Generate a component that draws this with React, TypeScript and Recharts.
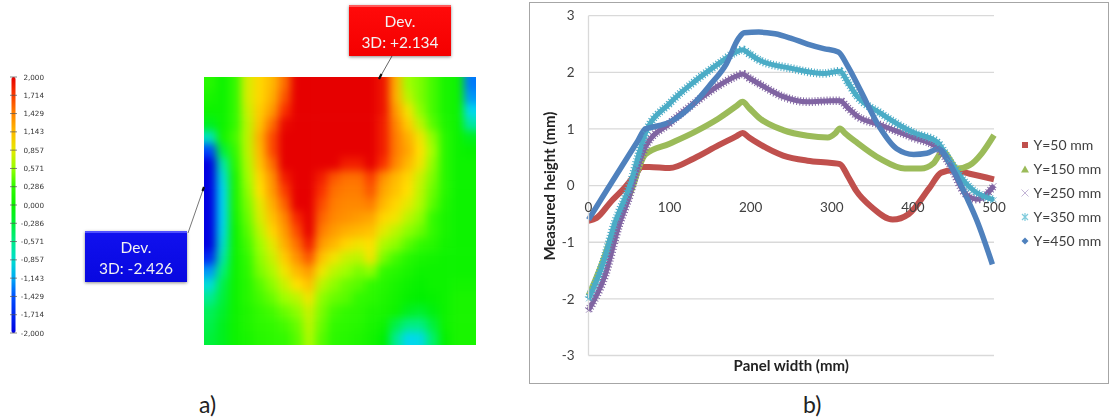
import React from "react";
import {
  LineChart, Line, XAxis, YAxis, CartesianGrid, Legend, ScatterChart, Scatter, ReferenceArea,
} from "recharts";

// ---- panel b data
const x50 = [0, 10, 28, 45, 58, 66, 75, 100, 130, 160, 182, 190, 198, 210, 240, 270, 300, 310, 320, 330, 350, 375, 395, 420, 435, 450, 470, 500];
const y50 = [-0.62, -0.57, -0.28, -0.03, 0.2, 0.33, 0.33, 0.31, 0.48, 0.71, 0.87, 0.93, 0.85, 0.74, 0.53, 0.44, 0.4, 0.38, 0.16, -0.09, -0.39, -0.6, -0.5, -0.05, 0.23, 0.27, 0.21, 0.11];
const x150 = [0, 16, 32, 55, 63, 70, 100, 130, 160, 182, 190, 198, 210, 240, 270, 295, 304, 310, 316, 330, 360, 390, 410, 425, 437, 455, 470, 485, 500];
const y150 = [-1.95, -1.4, -0.75, 0.0, 0.35, 0.55, 0.74, 0.94, 1.18, 1.4, 1.48, 1.37, 1.2, 0.98, 0.88, 0.85, 0.92, 1.01, 0.93, 0.77, 0.47, 0.3, 0.3, 0.39, 0.6, 0.3, 0.36, 0.57, 0.89];
const x250 = [0, 20, 38, 50, 60, 70, 100, 130, 160, 182, 190, 198, 210, 240, 270, 300, 310, 320, 330, 360, 400, 430, 445, 465, 480, 500];
const y250 = [-2.2, -1.6, -0.68, -0.2, 0.3, 0.68, 1.1, 1.45, 1.76, 1.93, 1.97, 1.9, 1.8, 1.57, 1.48, 1.5, 1.5, 1.37, 1.24, 1.07, 0.85, 0.67, 0.39, -0.15, -0.24, 0.0];
const x350 = [0, 16, 32, 53, 62, 70, 100, 130, 160, 182, 190, 198, 210, 250, 290, 310, 320, 330, 360, 400, 430, 445, 470, 500];
const y350 = [-2.0, -1.45, -0.68, 0.09, 0.55, 0.92, 1.45, 1.83, 2.15, 2.36, 2.4, 2.33, 2.22, 2.07, 1.98, 2.02, 1.82, 1.6, 1.28, 0.94, 0.77, 0.44, -0.03, -0.25];
const x450 = [0, 20, 45, 60, 70, 78, 100, 130, 150, 170, 185, 192, 210, 230, 250, 270, 290, 308, 320, 335, 359, 380, 401, 417, 431, 450, 466, 479, 498];
const y450 = [-0.6, -0.14, 0.43, 0.77, 1.0, 1.03, 1.12, 1.45, 1.78, 2.15, 2.6, 2.7, 2.71, 2.68, 2.6, 2.5, 2.42, 2.36, 2.1, 1.69, 1.03, 0.65, 0.55, 0.57, 0.65, 0.27, -0.2, -0.62, -1.39];
const xTicks = [0, 100, 200, 300, 400, 500];
const yTicks = [-3, -2, -1, 0, 1, 2, 3];
const legendOrder = ["Y=50 mm", "Y=150 mm", "Y=250 mm", "Y=350 mm", "Y=450 mm"];

const zip = (xs: number[], ys: number[]) => xs.map((x, i) => ({ x, y: ys[i] }));

// ---- panel a data (deviation map, read row by row)
const heatRows: number[][] = [
  [0.2, 0, 0.3, 0.8, 1.0, 1.15, 1.5, 2, 2, 2, 2, 2, 2, 2, 1.9, 1.2, 0.6, 0.5, 0.35, 0.1, 0, -1.3],
  [0.1, 0, 0.3, 0.8, 1.0, 1.2, 1.6, 2, 2, 2, 2, 2, 2, 2, 1.9, 1.2, 0.7, 0.5, 0.35, 0.1, 0, -1.2],
  [0.0, 0, 0.3, 0.75, 1.05, 1.3, 1.75, 2, 2, 2, 2, 2, 2, 2, 1.9, 1.3, 0.9, 0.55, 0.35, 0.1, 0, -1.0],
  [-0.2, 0, 0.3, 0.7, 1.1, 1.5, 1.95, 2.2, 2.2, 2, 2, 2, 2, 2.1, 1.85, 1.4, 1.05, 0.7, 0.4, 0.15, 0, -0.7],
  [-0.8, 0.05, 0.35, 0.7, 1.2, 1.65, 2.1, 2.2, 2.2, 2.2, 2.2, 2.2, 2.2, 2.2, 1.85, 1.45, 1.2, 0.9, 0.55, 0.2, 0, -0.2],
  [-1.5, -0.3, 0.3, 0.7, 1.15, 1.65, 2.1, 2.3, 2.3, 2.3, 2.3, 2.3, 2.3, 2.3, 1.85, 1.45, 1.25, 0.95, 0.6, 0.2, 0, -0.05],
  [-2, -0.7, 0.2, 0.65, 1.1, 1.5, 2.0, 2.3, 2.3, 2.2, 2.0, 1.85, 1.85, 2.0, 1.75, 1.4, 1.15, 0.9, 0.55, 0.2, 0, 0],
  [-2.2, -0.9, 0.1, 0.6, 1.0, 1.35, 1.85, 2.3, 2.3, 1.85, 1.6, 1.5, 1.5, 1.7, 1.35, 1.15, 1.0, 0.75, 0.5, 0.2, 0, 0],
  [-2.3, -1.0, 0.1, 0.55, 0.95, 1.3, 1.7, 2.25, 2.3, 1.75, 1.5, 1.45, 1.45, 1.6, 1.25, 1.1, 0.95, 0.7, 0.45, 0.2, 0, 0],
  [-2.3, -1.0, 0.1, 0.5, 0.85, 1.2, 1.55, 2.0, 2.3, 1.65, 1.45, 1.4, 1.4, 1.45, 1.15, 1.0, 0.85, 0.65, 0.4, 0.15, 0, 0],
  [-2.2, -1.0, 0.05, 0.45, 0.8, 1.1, 1.4, 1.8, 2.2, 1.55, 1.4, 1.35, 1.3, 1.25, 1.0, 0.9, 0.7, 0.55, 0.3, 0.1, 0, 0],
  [-2.2, -0.95, 0, 0.4, 0.7, 1.0, 1.3, 1.65, 2.1, 1.45, 1.3, 1.2, 1.15, 1.1, 0.85, 0.7, 0.55, 0.45, 0.3, 0.1, 0, 0],
  [-2, -0.85, 0, 0.35, 0.6, 0.85, 1.2, 1.5, 1.85, 1.3, 1.15, 1.0, 0.9, 0.95, 0.65, 0.55, 0.4, 0.3, 0.2, 0.05, 0, 0],
  [-1.7, -0.7, 0, 0.3, 0.55, 0.75, 1.05, 1.35, 1.6, 1.1, 0.9, 0.75, 0.7, 0.9, 0.5, 0.35, 0.2, 0.1, 0.05, 0, 0, 0],
  [-1.2, -0.5, 0, 0.25, 0.5, 0.65, 0.9, 1.15, 1.3, 0.9, 0.7, 0.6, 0.5, 0.55, 0.3, 0.2, 0.1, 0, 0, 0, 0, 0],
  [-0.9, -0.35, 0, 0.2, 0.4, 0.55, 0.75, 0.95, 1.1, 0.7, 0.55, 0.45, 0.4, 0.3, 0.2, 0.1, 0, -0.05, 0, 0, 0.05, 0.05],
  [-0.6, -0.3, 0, 0.2, 0.35, 0.45, 0.6, 0.7, 0.9, 0.55, 0.45, 0.4, 0.3, 0.25, 0.15, 0.05, -0.05, -0.1, -0.05, 0, 0.1, 0.1],
  [-0.4, -0.25, 0, 0.15, 0.3, 0.35, 0.45, 0.55, 0.75, 0.5, 0.35, 0.3, 0.25, 0.15, 0.1, 0, -0.2, -0.25, -0.15, 0, 0.1, 0.1],
  [-0.35, -0.2, 0, 0.15, 0.25, 0.3, 0.35, 0.45, 0.7, 0.45, 0.3, 0.25, 0.2, 0.1, 0, -0.35, -0.55, -0.55, -0.3, 0, 0.1, 0.1],
  [-0.3, -0.2, 0, 0.1, 0.2, 0.25, 0.3, 0.4, 0.65, 0.4, 0.25, 0.2, 0.15, 0.05, -0.1, -0.6, -1.0, -0.95, -0.45, -0.05, 0.1, 0.1],
];
const scaleTicks = [2, 1.714, 1.429, 1.143, 0.857, 0.571, 0.286, 0, -0.286, -0.571, -0.857, -1.143, -1.429, -1.714, -2];

const COLS = heatRows[0].length;
const ROWS = heatRows.length;
const heatCells = heatRows.flatMap((row, r) =>
  row.map((v, c) => ({ col: c + 0.5, row: r + 0.5, c, r, v }))
);
const scalePoints = scaleTicks.map((v) => ({ x: 0.5, y: v }));

const colorStops: [number, number[]][] = [
  [-2, [0, 0, 225]], [-1.43, [0, 80, 255]], [-1.0, [0, 215, 240]], [-0.5, [0, 240, 120]],
  [-0.1, [0, 240, 0]], [0.3, [50, 250, 0]], [0.6, [160, 255, 0]], [0.95, [255, 225, 0]],
  [1.43, [255, 130, 0]], [1.75, [250, 50, 0]], [2, [230, 0, 0]],
];
function heatColor(v: number) {
  const t = Math.max(-2, Math.min(2, v));
  for (let i = 1; i < colorStops.length; i++) {
    const [a, ca] = colorStops[i - 1];
    const [b, cb] = colorStops[i];
    if (t <= b) {
      const f = (t - a) / (b - a);
      const m = ca.map((p, k) => Math.round(p + (cb[k] - p) * f));
      return `rgb(${m[0]},${m[1]},${m[2]})`;
    }
  }
  return "rgb(230,0,0)";
}

const FONT = "Lato, 'Open Sans', sans-serif";
const PLOT_W = 272, PLOT_H = 268, PAD = 30;
const CW = PLOT_W / COLS, CH = PLOT_H / ROWS;

const HeatCell = (p: any) => {
  const d = p.payload;
  const l = p.cx - CW / 2 - (d.c === 0 ? PAD : 0);
  const r = p.cx + CW / 2 + 0.6 + (d.c === COLS - 1 ? PAD : 0);
  const t = p.cy - CH / 2 - (d.r === 0 ? PAD : 0);
  const b = p.cy + CH / 2 + 0.6 + (d.r === ROWS - 1 ? PAD : 0);
  return <rect x={l} y={t} width={r - l} height={b - t} fill={heatColor(d.v)} />;
};

const abs = (left: number, top: number, w: number, h: number): React.CSSProperties => ({
  position: "absolute", left, top, width: w, height: h,
});

function Callout({ left, top, bg, dark, lines }: { left: number; top: number; bg: string; dark: string; lines: string[] }) {
  return (
    <div style={{
      ...abs(left, top, 102, 51), background: bg, boxShadow: "0 1px 3px rgba(0,0,0,.45)",
      borderTop: `2px solid ${dark}`, boxSizing: "border-box", color: "#f2f2f2",
      fontFamily: FONT, fontSize: 15.5, textAlign: "center", lineHeight: "21px", paddingTop: 4, filter: "blur(0.3px)",
    }}>
      {lines.map((t) => <div key={t}>{t}</div>)}
    </div>
  );
}

const XTick = (p: any) => (
  <text x={p.x} y={p.y - 148} dy={-4} textAnchor="middle" fontFamily={FONT} fontSize={13.5} fill="#404040">
    {p.payload.value}
  </text>
);

const ScaleTick = (p: any) => (
  <g>
    <line x1={10} x2={17} y1={p.y} y2={p.y} stroke="#555" strokeWidth={0.7} />
    <text x={44} y={p.y + 2.5} textAnchor="end" fontFamily="'DejaVu Sans', sans-serif" fontSize={7.2} fill="#333">
      {p.payload.value.toFixed(3).replace(".", ",")}
    </text>
  </g>
);

const Cross = (p: any) => {
  if (p.cx == null) return <g key={p.key} />;
  const s = 2.5;
  return (
    <g key={p.key} stroke={p.stroke} strokeWidth={0.7}>
      <line x1={p.cx - s} x2={p.cx + s} y1={p.cy - s} y2={p.cy + s} />
      <line x1={p.cx - s} x2={p.cx + s} y1={p.cy + s} y2={p.cy - s} />
    </g>
  );
};

const legendMarks: Record<string, React.ReactNode> = {
  "Y=50 mm": <rect x={2} y={2} width={6} height={6} fill="#c0504d" />,
  "Y=150 mm": <polygon points="5,1.5 9,8.5 1,8.5" fill="#9bbb59" />,
  "Y=250 mm": <path d="M1.5 1.5 L8.5 8.5 M1.5 8.5 L8.5 1.5" stroke="#c3b5d6" strokeWidth={1} fill="none" />,
  "Y=350 mm": <path d="M2 2 L8 8 M2 8 L8 2 M5 1 L5 9" stroke="#7fcbdc" strokeWidth={1.2} fill="none" />,
  "Y=450 mm": <polygon points="5,1.5 8.5,5 5,8.5 1.5,5" fill="#4f81bd" />,
};

const LegendBox = () => (
  <div>
    {legendOrder.map((name) => (
      <div key={name} style={{ height: 24, display: "flex", alignItems: "center", fontFamily: FONT, fontSize: 14, color: "#404040", whiteSpace: "nowrap" }}>
        <svg width={10} height={10} style={{ marginRight: 4 }}>{legendMarks[name]}</svg>
        {name}
      </div>
    ))}
  </div>
);

export default function App() {
  return (
    <div style={{ position: "absolute", left: 0, top: 0, width: 1112, height: 419, background: "#fff", overflow: "hidden" }}>
      {/* colour scale */}
      <div style={{ ...abs(0, 65, 60, 280), filter: "blur(0.35px)" }}>
        <ScatterChart width={60} height={280} margin={{ top: 12, bottom: 12, left: 11.5, right: 0 }}>
          <defs>
            <linearGradient id="scaleGrad" x1="0" y1="0" x2="0" y2="1">
              {scaleTicks.map((t, i) => (
                <stop key={t} offset={i / (scaleTicks.length - 1)} stopColor={heatColor(t)} />
              ))}
            </linearGradient>
          </defs>
          <XAxis type="number" dataKey="x" domain={[0, 1]} hide />
          <YAxis type="number" dataKey="y" orientation="right" width={44.5} domain={[-2, 2]} ticks={scaleTicks} interval={0}
            axisLine={false} tickLine={false} tick={<ScaleTick />} />
          <ReferenceArea x1={0} x2={1} y1={-2} y2={2} fill="url(#scaleGrad)" fillOpacity={1} stroke="none" radius={2} />
          <Scatter data={scalePoints} shape={() => <g />} isAnimationActive={false} />
        </ScatterChart>
      </div>

      {/* deviation map */}
      <div style={{ ...abs(204, 77, PLOT_W, PLOT_H), overflow: "hidden" }}>
        <div style={{ ...abs(-PAD, -PAD, PLOT_W + PAD * 2, PLOT_H + PAD * 2), filter: "blur(4.5px)" }}>
          <ScatterChart width={PLOT_W + PAD * 2} height={PLOT_H + PAD * 2} margin={{ top: PAD, bottom: PAD, left: PAD, right: PAD }}>
            <XAxis type="number" dataKey="col" domain={[0, COLS]} hide />
            <YAxis type="number" dataKey="row" domain={[0, ROWS]} reversed hide />
            <Scatter data={heatCells} shape={<HeatCell />} isAnimationActive={false} />
          </ScatterChart>
        </div>
      </div>

      {/* leaders */}
      <svg style={{ ...abs(0, 0, 520, 300), pointerEvents: "none" }}>
        <line x1={392} y1={56} x2={379} y2={79} stroke="#666" strokeWidth={1} />
        <line x1={381.5} y1={74} x2={379} y2={79} stroke="#111" strokeWidth={2.2} />
        <line x1={188} y1={233} x2={204} y2={187} stroke="#777" strokeWidth={1} />
        <line x1={202.5} y1={191} x2={204} y2={187} stroke="#111" strokeWidth={2.2} />
      </svg>
      <Callout left={349} top={5} bg="linear-gradient(#ff0a0a,#f40000)" dark="#ff5a5a" lines={["Dev.", "3D: +2.134"]} />
      <Callout left={85} top={231} bg="linear-gradient(#1010ee,#0808e0)" dark="#5050ff" lines={["Dev.", "3D: -2.426"]} />
      <div style={{ position: "absolute", left: 199, top: 390, fontFamily: FONT, fontSize: 23, color: "#222" }}>a)</div>
      <div style={{ position: "absolute", left: 803, top: 390, fontFamily: FONT, fontSize: 23, color: "#222" }}>b)</div>

      {/* height profiles */}
      <div style={{ ...abs(529, 2, 580, 382), border: "1.5px solid #a6a6a6", boxSizing: "border-box" }}>
        <div style={{ ...abs(-1.5, -1.5, 580, 382), filter: "blur(0.35px)" }}>
          <LineChart width={580} height={382} margin={{ top: 13.7, right: 27, bottom: 0, left: 0 }}>
            <CartesianGrid vertical={false} stroke="#d9d9d9" strokeWidth={1.3} />
            <XAxis type="number" dataKey="x" domain={[0, 500]} ticks={xTicks} interval={0} height={28.5}
              axisLine={false} tickLine={false} tick={<XTick />}
              label={{ value: "Panel width (mm)", position: "insideBottom", offset: 13, fontFamily: FONT, fontWeight: 700, fontSize: 15, fill: "#222" }} />
            <YAxis type="number" domain={[-3, 3]} ticks={yTicks} interval={0} width={59.5}
              axisLine={{ stroke: "#d9d9d9", strokeWidth: 1.3 }} tickLine={false} tickMargin={8}
              tick={{ fontFamily: FONT, fontSize: 13.5, fill: "#404040" }}
              label={{ value: "Measured height (mm)", angle: -90, position: "insideLeft", offset: 21, dy: 75, fontFamily: FONT, fontWeight: 700, fontSize: 15, fill: "#222" }} />
            <Line type="monotone" data={zip(x50, y50)} dataKey="y" name="Y=50 mm" stroke="#c0504d" strokeWidth={6} dot={false} isAnimationActive={false} />
            <Line type="monotone" data={zip(x150, y150)} dataKey="y" name="Y=150 mm" stroke="#9bbb59" strokeWidth={6} dot={false} isAnimationActive={false} />
            <Line type="monotone" data={zip(x250, y250)} dataKey="y" name="Y=250 mm halo" stroke="#8064a2" strokeWidth={8.5} strokeDasharray="1 2" dot={false} legendType="none" isAnimationActive={false} />
            <Line type="monotone" data={zip(x250, y250)} dataKey="y" name="Y=250 mm" stroke="#8064a2" strokeWidth={5} dot={<Cross />} isAnimationActive={false} />
            <Line type="monotone" data={zip(x350, y350)} dataKey="y" name="Y=350 mm halo" stroke="#4bacc6" strokeWidth={8.5} strokeDasharray="1 2" dot={false} legendType="none" isAnimationActive={false} />
            <Line type="monotone" data={zip(x350, y350)} dataKey="y" name="Y=350 mm" stroke="#4bacc6" strokeWidth={5} dot={<Cross />} isAnimationActive={false} />
            <Line type="monotone" data={zip(x450, y450)} dataKey="y" name="Y=450 mm" stroke="#4f81bd" strokeWidth={5.5} dot={false} isAnimationActive={false} />
            <Legend content={<LegendBox />} layout="vertical" align="right" verticalAlign="top"
              wrapperStyle={{ left: 491, top: 131, width: 88, right: "auto", bottom: "auto" }} />
          </LineChart>
        </div>
      </div>
    </div>
  );
}
